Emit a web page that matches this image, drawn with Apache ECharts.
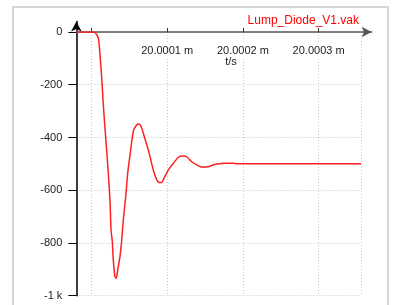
<!DOCTYPE html>
<html>
<head>
<meta charset="utf-8">
<script src="https://cdn.jsdelivr.net/npm/echarts@6/dist/echarts.min.js"></script>
<style>
  html, body { margin: 0; padding: 0; background: #fff; }
  #chart { width: 393px; height: 305px; }
</style>
</head>
<body>
<div id="chart"></div>
<script>
// time offset from 20 ms, in ns
const timeNs = [-20, 0.7, 4.6, 9.0, 11.2, 13.5, 15.6, 17.8, 20.1, 22.2, 24.4, 25.8, 27.5, 28.8, 31.0, 32.8,
  34.6, 37.6, 39.9, 42.0, 45.2, 47.8, 50.9, 55.2, 59.7, 62.7, 66.3, 69.7, 75.0, 81.6, 85.2, 89.2, 92.5,
  95.8, 101.5, 108.1, 114.7, 121.3, 126.2, 132.4, 138.0, 145.6, 154.3, 160.5, 167.5, 176.4, 187.3, 192.2, 356];
const vak = [0, 0, -2, -23, -86, -174, -276, -364, -452, -536, -637, -751, -795, -865, -928, -934,
  -903, -852, -789, -713, -625, -536, -466, -377, -352, -349, -364, -396, -447, -523, -554, -571, -571,
  -554, -523, -498, -475, -470, -474, -492, -502, -512, -511, -504, -500, -498, -498, -500, -500];
const tickNs = [0, 100, 200, 300];
const labelNs = [100, 200, 300];
const yTicks = [-1000, -800, -600, -400, -200, 0];
const seriesName = 'Lump_Diode_V1.vak';

const chart = echarts.init(document.getElementById('chart'));
const font = 'Liberation Sans, Arial, sans-serif';

chart.setOption({
  animation: false,
  backgroundColor: '#fff',
  legend: {
    data: [seriesName], right: 34, top: 14, padding: 0, icon: 'none', itemWidth: 0, itemGap: 0,
    textStyle: {color: '#ff0000', fontSize: 12, fontFamily: font}
  },
  graphic: [
    {type: 'rect', shape: {x: 13, y: 7, width: 375, height: 320}, style: {fill: 'none', stroke: '#d6d6d6', lineWidth: 2}, silent: true},
    {type: 'text', x: 231, y: 62, style: {text: 't/s', fill: '#222', fontSize: 11, fontFamily: font, align: 'center', verticalAlign: 'middle'}, z: 10}
  ],
  grid: [
    {left: 76.36, right: 32, top: 32, bottom: 9.3},
    {left: 76.36, right: 21.4, top: 21.45, bottom: 9.3}
  ],
  xAxis: [
    {
      type: 'value', gridIndex: 0, min: -20, max: 356, position: 'top',
      axisLine: {show: false, onZero: false},
      axisTick: {show: false},
      axisLabel: {
        inside: true, margin: 12, customValues: labelNs, color: '#222', fontSize: 11, fontFamily: font,
        backgroundColor: '#fff', padding: [1, 2],
        formatter: v => (20 + v / 1e6).toFixed(4) + ' m'
      },
      splitLine: {show: true, lineStyle: {color: '#c8c8c8', type: [1, 2]}}
    },
    {
      type: 'value', gridIndex: 1, min: -20, max: 370,
      axisLine: {show: true, onZero: true, symbol: ['none', 'arrow'], symbolSize: [8, 10], lineStyle: {color: '#555', width: 1.5}},
      axisTick: {show: true, inside: true, length: 4, customValues: tickNs, lineStyle: {color: '#333'}},
      axisLabel: {show: false},
      splitLine: {show: false}
    }
  ],
  yAxis: [
    {
      type: 'value', gridIndex: 0, min: -1000, max: 0,
      axisLine: {show: false, onZero: false},
      axisTick: {show: true, length: 8, customValues: yTicks, lineStyle: {color: '#000'}},
      axisLabel: {
        margin: 14, customValues: yTicks, color: '#222', fontSize: 11, fontFamily: font,
        formatter: v => v === -1000 ? '-1 k' : String(v)
      },
      splitLine: {show: true, lineStyle: {color: '#c8c8c8', type: [1, 2]}}
    },
    {
      type: 'value', gridIndex: 1, min: -1000, max: 40,
      axisLine: {show: true, onZero: false, symbol: ['none', 'arrow'], symbolSize: [8, 10], lineStyle: {color: '#000', width: 1.5}},
      axisTick: {show: false},
      axisLabel: {show: false},
      splitLine: {show: false}
    }
  ],
  series: [{
    name: seriesName,
    type: 'line',
    xAxisIndex: 0,
    yAxisIndex: 0,
    data: timeNs.map((t, i) => [t, vak[i]]),
    showSymbol: false,
    smooth: 0.2,
    lineStyle: {color: '#ff2020', width: 1.5},
    itemStyle: {color: '#ff2020'}
  }]
});
</script>
</body>
</html>
